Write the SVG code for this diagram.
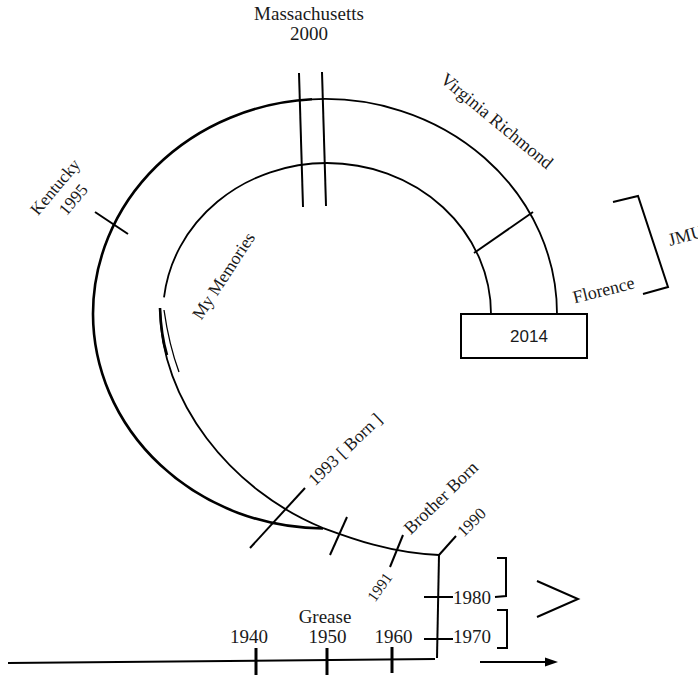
<svg xmlns="http://www.w3.org/2000/svg" width="698" height="675" viewBox="0 0 698 675">
<style>
.ln{fill:none;stroke:#000;stroke-width:1.8;stroke-linecap:butt}
.thick{fill:none;stroke:#000;stroke-width:2.6}
.thin{fill:none;stroke:#000;stroke-width:1.3}
.tk{fill:none;stroke:#000;stroke-width:2}
.tk3{fill:none;stroke:#000;stroke-width:3}
text{font-family:"Liberation Serif","Times New Roman",serif;fill:#1a1a1a}
</style>
<rect width="698" height="675" fill="#fff"/>
<g id="connectors">
  <g id="rings">
    <path class="ln" d="M557,314 A232,215 0 0 0 312,99.3"/>
    <path class="thick" d="M312,99.3 A232,215 0 0 0 93,314 A232,215 0 0 0 323,528.5"/>
    <path class="ln" d="M491,314 A164,151 0 0 0 327,163 A164,151 0 0 0 164,297.4"/>
    <path class="ln" d="M160,308 C160,400 230,490 323,528"/>
    <path class="thick" d="M160,308 Q161,335 167,355"/>
    <path class="thin" d="M164,310 Q169,345 179,372"/>
    <path class="ln" d="M323,528 C350,538 390,553 439,555"/>
  </g>
  <g id="ticks">
    <line class="tk" x1="95" y1="212" x2="128" y2="234"/>
    <line class="tk" x1="299" y1="73" x2="303" y2="207"/>
    <line class="tk" x1="322" y1="72" x2="326" y2="206"/>
    <line class="tk" x1="474" y1="253" x2="533" y2="212"/>
    <line class="tk" x1="250" y1="548" x2="305" y2="488"/>
    <line class="tk" x1="330" y1="555" x2="347" y2="517"/>
    <line class="tk" x1="390" y1="567" x2="403" y2="535"/>
    <line class="tk" x1="439" y1="555" x2="456" y2="536"/>
  </g>
  <g id="axis">
    <line class="tk" x1="8" y1="663" x2="435" y2="659"/>
    <line class="tk3" x1="256" y1="648" x2="256" y2="675"/>
    <line class="tk3" x1="327" y1="648" x2="327" y2="675"/>
    <line class="tk3" x1="392" y1="647" x2="392" y2="673"/>
    <line class="tk" x1="439" y1="555" x2="437" y2="658"/>
    <line class="tk" x1="424" y1="597" x2="453" y2="597"/>
    <line class="tk" x1="424" y1="639" x2="453" y2="639"/>
    <polyline class="tk" points="497,558 506,558 506,596 495,597"/>
    <polyline class="tk" points="497,610 507,610 507,648 497,648"/>
    <polyline class="tk" points="537,581 578,599 537,617"/>
    <line class="tk" x1="480" y1="662" x2="547" y2="662"/>
    <polygon points="545,657.5 558,662 545,666.5" fill="#000"/>
    <polyline class="tk" points="613,202 638,196 668,287 643,294"/>
  </g>
</g>
<g id="box-2014">
  <rect x="461" y="314" width="126" height="44" fill="#fff" stroke="#000" stroke-width="2"/>
  <text x="529" y="341.5" text-anchor="middle" style="font-family:'Liberation Sans',Arial,sans-serif;font-size:17px">2014</text>
</g>
<g id="labels">
  <text x="309" y="20" text-anchor="middle" font-size="19">Massachusetts</text>
  <text x="309" y="40" text-anchor="middle" font-size="19">2000</text>
  <g id="kentucky" transform="translate(59.5,190.6) rotate(-50)">
    <text x="0" y="0" text-anchor="middle" font-size="17.2">Kentucky</text>
    <text x="2" y="22" text-anchor="middle" font-size="17.2">1995</text>
  </g>
  <text transform="translate(493,125.5) rotate(39.5)" text-anchor="middle" font-size="18.2">Virginia Richmond</text>
  <text transform="translate(228.5,279) rotate(-57)" text-anchor="middle" font-size="17.5">My Memories</text>
  <text transform="translate(349,453.5) rotate(-44)" text-anchor="middle" font-size="17.5">1993 [ Born ]</text>
  <text transform="translate(445,502) rotate(-44)" text-anchor="middle" font-size="18">Brother Born</text>
  <text transform="translate(475.4,526.2) rotate(-45)" text-anchor="middle" font-size="16.5">1990</text>
  <text transform="translate(384,590) rotate(-55)" text-anchor="middle" font-size="15.5">1991</text>
  <text transform="translate(605,295.8) rotate(-14)" text-anchor="middle" font-size="18">Florence</text>
  <text transform="translate(670,246) rotate(-15)" font-size="18">JMU</text>
  <text x="249" y="643" text-anchor="middle" font-size="19">1940</text>
  <text x="327.5" y="643" text-anchor="middle" font-size="19">1950</text>
  <text x="393.5" y="643" text-anchor="middle" font-size="19">1960</text>
  <text x="325" y="623" text-anchor="middle" font-size="19">Grease</text>
  <text x="453" y="604" font-size="19">1980</text>
  <text x="453" y="643" font-size="19">1970</text>
</g>
</svg>
